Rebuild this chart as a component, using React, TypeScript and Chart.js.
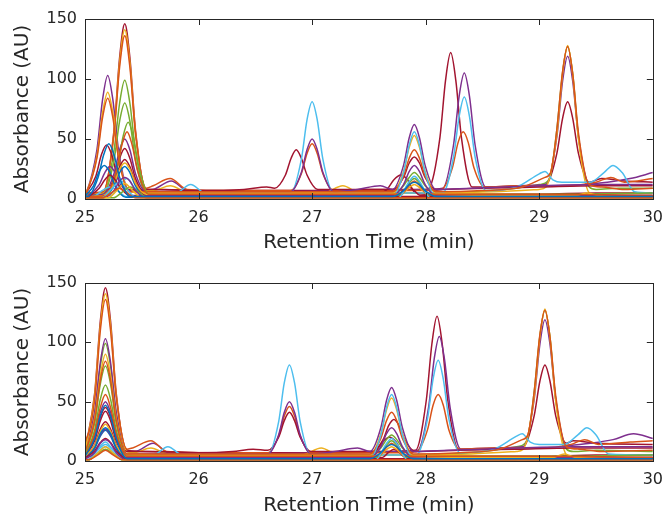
import React, { useEffect, useRef } from "react";
import { Chart, registerables } from "chart.js";
Chart.register(...registerables);

type P = [number, number][];

// ---------- colours (MATLAB default order) ----------
const BLUE = "#0072BD";
const ORANGE = "#D95319";
const YELLOW = "#EDB120";
const PURPLE = "#7E2F8E";
const GREEN = "#77AC30";
const CYAN = "#4DBEEE";
const DARKRED = "#A2142F";

// ---------- axes ----------
const X_TICKS = [25, 26, 27, 28, 29, 30];
const Y_TICKS = [0, 50, 100, 150];
const X_TITLE = "Retention Time (min)";
const Y_TITLE = "Absorbance (AU)";

// ---------- TOP panel (raw chromatograms) ----------
const B1_T: P = [[25,2],[25.02,2],[25.115,18],[25.165,37],[25.21,46],[25.255,37],[25.305,18],[25.4,2],[26,2],[27.71,2],[27.805,7],[27.855,12],[27.9,14],[27.945,12],[27.995,7],[28.09,2],[30,2]];
const B2_T: P = [[25,2.5],[25.075,11],[25.125,23],[25.17,28],[25.215,23],[25.265,11],[25.36,1.5],[30,1.5]];
const B3_T: P = [[25,1],[25.16,1],[25.255,11],[25.305,22],[25.35,27],[25.395,22],[25.445,11],[25.54,1],[29,1],[29.05,3],[29.1,1],[30,1]];

const O1_T: P = [[25,5],[25.16,6],[25.255,54],[25.305,110],[25.35,136],[25.395,110],[25.445,54],[25.54,9],[25.6,11],[25.75,17],[25.9,8],[26.3,7],[26.81,7],[26.905,21],[26.955,38],[27.0,46],[27.045,38],[27.095,21],[27.19,7],[27.6,7],[28.0,7],[28.14,8],[28.235,26],[28.285,47],[28.33,56],[28.375,47],[28.425,26],[28.52,10],[28.8,11],[29.2,11],[29.5,14],[29.63,18],[29.75,14],[30,17]];
const O2_T: P = [[25,4],[25.01,5],[25.105,34],[25.155,68],[25.2,84],[25.245,68],[25.295,34],[25.39,6],[25.6,6],[26,6],[27,6],[27.71,6],[27.805,19],[27.855,34],[27.9,41],[27.945,34],[27.995,19],[28.09,6],[28.5,7],[28.85,10],[29.05,18],[29.1,22],[29.155,58],[29.205,106],[29.25,127],[29.295,104],[29.345,55],[29.44,12],[29.55,10],[29.75,8],[30,9]];
const O3_T: P = [[25,2],[25.18,3],[25.275,23],[25.325,45],[25.37,56],[25.415,45],[25.465,23],[25.56,4],[26,4],[27,4],[27.78,4],[27.86,12],[27.9,15],[27.94,12],[28.02,4],[29,4],[30,3]];
const O4_T: P = [[25,1],[25.15,1],[25.23,5],[25.3,9],[25.37,5],[25.45,1],[30,1]];

const Y1_T: P = [[25,4],[25.16,5],[25.255,55],[25.305,114],[25.35,141],[25.395,114],[25.445,55],[25.54,7],[25.6,7],[25.75,11],[25.9,6],[26.5,5],[27.1,5],[27.27,11],[27.42,5],[28,5],[28.6,6],[29.0,8],[29.06,10],[29.155,54],[29.205,104],[29.25,128],[29.295,103],[29.345,50],[29.44,5],[29.5,3],[30,3]];
const Y2_T: P = [[25,4],[25.01,5],[25.105,36],[25.155,72],[25.2,89],[25.245,72],[25.295,36],[25.39,6],[26,5],[27,5],[27.71,5],[27.805,23],[27.855,43],[27.9,53],[27.945,43],[27.995,23],[28.09,5],[28.5,4],[29,3],[30,2]];
const Y3_T: P = [[25,2],[25.16,3],[25.255,13],[25.305,25],[25.35,30],[25.395,25],[25.445,13],[25.54,4],[26,4],[27,4],[27.78,4],[27.86,10],[27.9,12],[27.94,10],[28.02,4],[29,3],[29.32,3],[29.42,5],[29.52,3],[30,2]];
const Y4_T: P = [[25,1],[25.2,1],[25.28,7],[25.35,13],[25.42,7],[25.5,1],[30,1]];

const P1_T: P = [[25,4],[25.01,5],[25.105,41],[25.155,83],[25.2,103],[25.245,83],[25.295,41],[25.39,7],[25.6,8],[25.76,15],[25.9,7],[26.5,6],[27.5,7],[28.0,8],[28.15,9],[28.245,45],[28.295,86],[28.34,105],[28.385,86],[28.435,45],[28.53,10],[28.8,11],[29.06,12],[29.155,52],[29.205,98],[29.25,119],[29.295,98],[29.345,52],[29.44,13],[29.6,14],[29.8,17],[30,22]];
const P2_T: P = [[25,3],[25.16,4],[25.255,21],[25.305,41],[25.35,50],[25.395,41],[25.445,21],[25.54,6],[26,6],[26.81,6],[26.905,22],[26.955,41],[27.0,50],[27.045,41],[27.095,22],[27.19,6],[27.4,8],[27.6,11],[27.71,8],[27.805,28],[27.855,51],[27.9,62],[27.945,51],[27.995,28],[28.09,8],[28.4,9],[29,11],[29.5,12],[30,12]];
const P3_T: P = [[25,2],[25.03,3],[25.125,12],[25.175,22],[25.22,27],[25.265,22],[25.315,12],[25.41,3],[26,3],[27,3],[27.71,3],[27.805,12],[27.855,23],[27.9,28],[27.945,23],[27.995,12],[28.09,3],[29,3],[30,3]];
const P4_T: P = [[25,1],[25.16,1],[25.255,7],[25.305,15],[25.35,18],[25.395,15],[25.445,7],[25.54,1],[30,1]];

const G1_T: P = [[25,4],[25.16,5],[25.255,40],[25.305,80],[25.35,99],[25.395,80],[25.445,40],[25.54,6],[26,5],[27,5],[28,5],[28.6,7],[29.0,12],[29.09,17],[29.155,58],[29.205,105],[29.25,127],[29.295,104],[29.345,52],[29.44,10],[29.5,8],[29.7,9],[30,9]];
const G2_T: P = [[25,3],[25.16,4],[25.255,32],[25.305,65],[25.35,80],[25.395,65],[25.445,32],[25.54,5],[26,4],[27,4],[27.71,4],[27.805,11],[27.855,18],[27.9,22],[27.945,18],[27.995,11],[28.09,4],[29,4],[30,5]];
const G3_T: P = [[25,2],[25.19,3],[25.285,26],[25.335,52],[25.38,64],[25.425,52],[25.475,26],[25.57,3],[26,3],[27,3],[27.78,3],[27.86,14],[27.9,17],[27.94,14],[28.02,3],[30,2]];
const G4_T: P = [[25,1],[25.25,1],[25.33,6],[25.4,10],[25.47,6],[25.55,1],[30,1]];

const C1_T: P = [[25,3],[25.23,3],[25.3,11],[25.37,17],[25.44,9],[25.55,5],[25.8,5],[25.93,12],[26.06,5],[26.5,5],[26.81,5],[26.905,33],[26.955,66],[27.0,81],[27.045,66],[27.095,33],[27.19,5],[27.6,5],[28.15,5],[28.245,35],[28.295,69],[28.34,85],[28.385,69],[28.435,35],[28.53,7],[28.8,10],[29.0,21],[29.05,23],[29.12,16],[29.2,14],[29.45,14],[29.57,22],[29.65,28],[29.73,22],[29.84,6],[30,5]];
const C2_T: P = [[25,1],[25.08,2],[25.15,7],[25.22,10],[25.29,7],[25.36,2],[26,2],[27.71,2],[27.805,22],[27.855,45],[27.9,56],[27.945,45],[27.995,22],[28.09,2],[30,2]];
const C3_T: P = [[25,1],[25.15,1],[25.23,8],[25.3,14],[25.37,8],[25.45,1],[26,1],[27.76,1],[27.85,14],[27.9,19],[27.95,14],[28.04,1],[30,1]];

const DR1_T: P = [[25,4],[25.16,5],[25.255,57],[25.305,118],[25.35,146],[25.395,118],[25.445,57],[25.54,8],[25.7,8],[26,7],[26.5,7],[27,7],[27.5,8],[28.0,8],[28.03,9],[28.125,51],[28.175,99],[28.22,122],[28.265,99],[28.315,51],[28.41,10],[28.6,10],[29.0,11],[29.06,12],[29.155,38],[29.205,67],[29.25,81],[29.295,67],[29.345,38],[29.44,14],[29.55,17],[29.75,15],[30,14]];
const DR2_T: P = [[25,3.5],[25.095,19],[25.145,37],[25.19,45],[25.235,37],[25.285,19],[25.38,8],[25.6,8],[26,7],[26.4,8],[26.6,10],[26.67,9],[26.765,20],[26.815,34],[26.86,41],[26.905,34],[26.955,20],[27.05,8],[27.3,8],[27.71,8],[27.805,18],[27.855,30],[27.9,35],[27.945,30],[27.995,18],[28.09,8],[28.5,9],[29,10],[29.5,11],[30,11]];
const DR3_T: P = [[25,2],[25.16,3],[25.255,17],[25.305,34],[25.35,42],[25.395,34],[25.445,17],[25.54,4],[26,4],[27,4],[27.6,5],[27.66,8],[27.72,16],[27.78,20],[27.84,16],[27.9,6],[28.0,4],[28.5,4],[29,4],[29.5,5],[30,5]];
const DR4_T: P = [[25,1],[25.16,2],[25.255,13.5],[25.305,27],[25.35,33],[25.395,27],[25.445,13.5],[25.54,3],[26,3],[27,3],[27.75,3],[27.8,7],[27.85,10],[27.9,7],[27.95,3],[28.5,3],[29,3],[29.4,4],[29.7,3],[30,3]];
const DR5_T: P = [[25,1],[25.03,2],[25.125,9],[25.175,16],[25.22,20],[25.265,16],[25.315,9],[25.41,2],[26,2],[27,2],[28,2],[29,2],[30,2]];

// ---------- BOTTOM panel (aligned chromatograms) ----------
const B1_B: P = [[25,4],[25.085,19],[25.135,38],[25.18,47],[25.225,38],[25.275,19],[25.37,2],[26,2],[27.51,2],[27.605,7],[27.655,12],[27.7,14],[27.745,12],[27.795,7],[27.89,2],[30,2]];
const B2_B: P = [[25,2],[25.085,11],[25.135,23],[25.18,28],[25.225,23],[25.275,11],[25.37,1.5],[30,1.5]];
const B3_B: P = [[25,1.5],[25.085,10.5],[25.135,21],[25.18,26],[25.225,21],[25.275,10.5],[25.37,1],[28.8,1],[28.85,3],[28.9,1],[30,1]];

const O1_B: P = [[25,16],[25.05,30],[25.09,56],[25.135,110],[25.18,136],[25.225,110],[25.275,54],[25.37,10],[25.42,11],[25.58,17],[25.72,8],[26.1,7],[26.61,7],[26.705,21],[26.755,38],[26.8,46],[26.845,38],[26.895,21],[26.99,7],[27.4,7],[27.8,7],[27.92,8],[28.015,26],[28.065,47],[28.11,56],[28.155,47],[28.205,26],[28.3,10],[28.6,11],[29.0,11],[29.28,14],[29.4,18],[29.52,14],[29.8,16],[30,17]];
const O2_B: P = [[25,7],[25.085,34],[25.135,68],[25.18,84],[25.225,68],[25.275,34],[25.37,6],[25.6,6],[26,6],[27,6],[27.51,6],[27.605,19],[27.655,34],[27.7,41],[27.745,34],[27.795,19],[27.89,6],[28.3,7],[28.65,10],[28.85,18],[28.9,22],[28.955,58],[29.005,106],[29.05,127],[29.095,104],[29.145,55],[29.24,12],[29.35,10],[29.55,8],[30,9]];
const O3_B: P = [[25,4],[25.085,23],[25.135,45],[25.18,56],[25.225,45],[25.275,23],[25.37,4],[26,4],[27,4],[27.58,4],[27.66,12],[27.7,15],[27.74,12],[27.82,4],[29,4],[30,3]];
const O4_B: P = [[25,1],[25.03,1],[25.11,5],[25.18,9],[25.25,5],[25.33,1],[30,1]];

const Y1_B: P = [[25,8],[25.085,55],[25.135,114],[25.18,141],[25.225,114],[25.275,55],[25.37,8],[25.43,7],[25.58,11],[25.73,6],[26.3,5],[26.91,5],[27.08,11],[27.23,5],[27.8,5],[28.4,6],[28.8,8],[28.86,10],[28.955,54],[29.005,104],[29.05,128],[29.095,103],[29.145,50],[29.24,5],[29.3,3],[30,3]];
const Y2_B: P = [[25,7],[25.085,36],[25.135,72],[25.18,90],[25.225,72],[25.275,36],[25.37,6],[26,5],[27,5],[27.51,5],[27.605,23],[27.655,43],[27.7,53],[27.745,43],[27.795,23],[27.89,5],[28.3,4],[28.8,3],[30,2]];
const Y3_B: P = [[25,4],[25.085,13],[25.135,25],[25.18,31],[25.225,25],[25.275,13],[25.37,4],[26,4],[27,4],[27.58,4],[27.66,10],[27.7,12],[27.74,10],[27.82,4],[28.8,3],[29.12,3],[29.22,6],[29.32,3],[30,2]];
const Y4_B: P = [[25,1],[25.03,1],[25.11,6.5],[25.18,12],[25.25,6.5],[25.33,1],[30,1]];

const P1_B: P = [[25,7],[25.085,41],[25.135,83],[25.18,103],[25.225,83],[25.275,41],[25.37,8],[25.44,8],[25.6,15],[25.74,7],[26.3,6],[27.3,7],[27.8,8],[27.93,9],[28.025,45],[28.075,86],[28.12,105],[28.165,86],[28.215,45],[28.31,10],[28.6,11],[28.86,12],[28.955,52],[29.005,98],[29.05,119],[29.095,98],[29.145,52],[29.24,13],[29.45,15],[29.65,18],[29.83,23],[30,19]];
const P2_B: P = [[25,5],[25.085,21],[25.135,41],[25.18,50],[25.225,41],[25.275,21],[25.37,6],[26,6],[26.61,6],[26.705,22],[26.755,41],[26.8,50],[26.845,41],[26.895,22],[26.99,6],[27.2,8],[27.4,11],[27.51,8],[27.605,28],[27.655,51],[27.7,62],[27.745,51],[27.795,28],[27.89,8],[28.2,9],[28.8,11],[29.3,12],[30,12]];
const P3_B: P = [[25,3],[25.085,12],[25.135,22],[25.18,27],[25.225,22],[25.275,12],[25.37,3],[26,3],[27.51,3],[27.605,12],[27.655,23],[27.7,28],[27.745,23],[27.795,12],[27.89,3],[30,3]];
const P4_B: P = [[25,1.5],[25.085,7],[25.135,15],[25.18,18],[25.225,15],[25.275,7],[25.37,1],[30,1]];

const G1_B: P = [[25,7],[25.085,40],[25.135,80],[25.18,99],[25.225,80],[25.275,40],[25.37,6],[26,5],[27,5],[27.8,5],[28.4,7],[28.8,12],[28.89,17],[28.955,58],[29.005,105],[29.05,127],[29.095,104],[29.145,52],[29.24,10],[29.3,8],[29.5,9],[30,8]];
const G2_B: P = [[25,6],[25.085,32],[25.135,65],[25.18,80],[25.225,65],[25.275,32],[25.37,5],[26,4],[27,4],[27.51,4],[27.605,11],[27.655,18],[27.7,22],[27.745,18],[27.795,11],[27.89,4],[29,4],[30,5]];
const G3_B: P = [[25,5],[25.085,26],[25.135,52],[25.18,64],[25.225,52],[25.275,26],[25.37,3],[26,3],[27,3],[27.58,3],[27.66,14],[27.7,17],[27.74,14],[27.82,3],[30,2]];
const G4_B: P = [[25,1],[25.03,1],[25.11,6],[25.18,10],[25.25,6],[25.33,1],[30,1]];

const C1_B: P = [[25,3],[25.06,5],[25.12,11],[25.18,16],[25.25,9],[25.36,5],[25.6,5],[25.73,12],[25.86,5],[26.3,5],[26.61,5],[26.705,33],[26.755,66],[26.8,81],[26.845,66],[26.895,33],[26.99,5],[27.4,5],[27.92,5],[28.015,35],[28.065,69],[28.11,85],[28.155,69],[28.205,35],[28.3,7],[28.6,10],[28.8,21],[28.85,23],[28.92,16],[29.0,14],[29.22,14],[29.34,22],[29.42,28],[29.5,22],[29.61,6],[30,5]];
const C2_B: P = [[25,1],[25.04,2],[25.11,9],[25.18,14],[25.25,9],[25.32,2],[26,2],[27.51,2],[27.605,22],[27.655,45],[27.7,56],[27.745,45],[27.795,22],[27.89,2],[30,2]];
const C3_B: P = [[25,1],[25.03,1],[25.11,7],[25.18,12],[25.25,7],[25.33,1],[26,1],[27.56,1],[27.65,14],[27.7,19],[27.75,14],[27.84,1],[30,1]];

const DR1_B: P = [[25,9],[25.085,57],[25.135,118],[25.18,146],[25.225,118],[25.275,57],[25.37,9],[25.5,8],[26,7],[26.5,7],[27,7],[27.5,8],[27.91,9],[28.005,51],[28.055,99],[28.1,122],[28.145,99],[28.195,51],[28.29,10],[28.5,10],[28.86,12],[28.955,38],[29.005,67],[29.05,81],[29.095,67],[29.145,38],[29.24,15],[29.3,17],[29.5,15],[30,14]];
const DR2_B: P = [[25,5],[25.085,19],[25.135,37],[25.18,45],[25.225,37],[25.275,19],[25.37,8],[25.6,8],[26,7],[26.3,8],[26.48,10],[26.61,9],[26.705,20],[26.755,34],[26.8,41],[26.845,34],[26.895,20],[26.99,8],[27.3,8],[27.53,8],[27.625,18],[27.675,30],[27.72,35],[27.765,30],[27.815,18],[27.91,8],[28.3,9],[28.8,10],[29.3,11],[30,11]];
const DR3_B: P = [[25,4],[25.085,17],[25.135,34],[25.18,42],[25.225,34],[25.275,17],[25.37,4],[26,4],[27,4],[27.5,5],[27.56,8],[27.62,16],[27.68,20],[27.74,16],[27.8,6],[27.9,4],[28.5,4],[29,4],[29.5,5],[30,5]];
const DR4_B: P = [[25,3],[25.085,13.5],[25.135,27],[25.18,33],[25.225,27],[25.275,13.5],[25.37,3],[26,3],[27,3],[27.62,3],[27.67,7],[27.72,10],[27.77,7],[27.82,3],[28.5,3],[29,3],[29.4,4],[29.7,3],[30,3]];
const DR5_B: P = [[25,2.5],[25.085,8.5],[25.135,15.5],[25.18,19],[25.225,15.5],[25.275,8.5],[25.37,2],[30,2]];

const TOP_SERIES: [string, P][] = [
  [BLUE, B1_T], [ORANGE, O4_T], [YELLOW, Y4_T], [PURPLE, P4_T], [GREEN, G4_T], [CYAN, C3_T], [DARKRED, DR5_T],
  [BLUE, B2_T], [ORANGE, O3_T], [YELLOW, Y3_T], [PURPLE, P3_T], [GREEN, G3_T], [CYAN, C2_T], [DARKRED, DR4_T],
  [BLUE, B3_T], [ORANGE, O2_T], [YELLOW, Y2_T], [PURPLE, P2_T], [GREEN, G2_T], [CYAN, C1_T], [DARKRED, DR3_T],
  [DARKRED, DR2_T], [ORANGE, O1_T], [YELLOW, Y1_T], [PURPLE, P1_T], [GREEN, G1_T], [DARKRED, DR1_T],
];
const BOTTOM_SERIES: [string, P][] = [
  [BLUE, B1_B], [ORANGE, O4_B], [YELLOW, Y4_B], [PURPLE, P4_B], [GREEN, G4_B], [CYAN, C3_B], [DARKRED, DR5_B],
  [BLUE, B2_B], [ORANGE, O3_B], [YELLOW, Y3_B], [PURPLE, P3_B], [GREEN, G3_B], [CYAN, C2_B], [DARKRED, DR4_B],
  [BLUE, B3_B], [ORANGE, O2_B], [YELLOW, Y2_B], [PURPLE, P2_B], [GREEN, G2_B], [CYAN, C1_B], [DARKRED, DR3_B],
  [DARKRED, DR2_B], [ORANGE, O1_B], [YELLOW, Y1_B], [PURPLE, P1_B], [GREEN, G1_B], [DARKRED, DR1_B],
];

const FONT = "'DejaVu Sans', sans-serif";
const INK = "#262626";

const boxPlugin = {
  id: "matlabBox",
  afterDatasetsDraw(chart: any) {
    const { ctx, chartArea, scales } = chart;
    const { left, right, top, bottom } = chartArea;
    ctx.save();
    ctx.strokeStyle = INK;
    ctx.lineWidth = 1;
    ctx.strokeRect(Math.round(left) + 0.5, Math.round(top) + 0.5, Math.round(right - left), Math.round(bottom - top));
    const tl = 6;
    ctx.beginPath();
    for (const v of X_TICKS) {
      const px = Math.round(scales.x.getPixelForValue(v)) + 0.5;
      ctx.moveTo(px, bottom); ctx.lineTo(px, bottom - tl);
      ctx.moveTo(px, top); ctx.lineTo(px, top + tl);
    }
    for (const v of Y_TICKS) {
      const py = Math.round(scales.y.getPixelForValue(v)) + 0.5;
      ctx.moveTo(left, py); ctx.lineTo(left + tl, py);
      ctx.moveTo(right, py); ctx.lineTo(right - tl, py);
    }
    ctx.stroke();
    ctx.restore();
  },
};

function makeConfig(series: [string, P][], padTop: number, xHeight: number, titlePadBottom: number): any {
  return {
    type: "line",
    data: {
      datasets: series.map(([color, pts]) => ({
        data: pts.map(([x, y]) => ({ x, y })),
        borderColor: color,
        borderWidth: 1.5,
        pointRadius: 0,
        fill: false,
        cubicInterpolationMode: "monotone",
      })),
    },
    options: {
      responsive: false,
      animation: false,
      devicePixelRatio: 1,
      layout: { padding: { top: padTop, right: 13, left: 0, bottom: 0 } },
      plugins: { legend: { display: false }, tooltip: { enabled: false } },
      events: [],
      scales: {
        x: {
          type: "linear",
          min: 25,
          max: 30,
          afterBuildTicks: (s: any) => { s.ticks = X_TICKS.map((v) => ({ value: v })); },
          afterFit: (s: any) => { s.height = xHeight; },
          grid: { display: false, drawTicks: false },
          border: { display: false },
          ticks: { color: INK, font: { family: FONT, size: 16 }, padding: 9, maxRotation: 0, autoSkip: false },
          title: { display: true, text: X_TITLE, color: INK, font: { family: FONT, size: 20 }, padding: { top: 0, bottom: titlePadBottom } },
        },
        y: {
          min: 0,
          max: 150,
          afterBuildTicks: (s: any) => { s.ticks = Y_TICKS.map((v) => ({ value: v })); },
          afterFit: (s: any) => { s.width = 85; },
          grid: { display: false, drawTicks: false },
          border: { display: false },
          ticks: { color: INK, font: { family: FONT, size: 16 }, padding: 8 },
          title: { display: true, text: Y_TITLE, color: INK, font: { family: FONT, size: 20 }, padding: { top: 11, bottom: 0 } },
        },
      },
    },
    plugins: [boxPlugin],
  };
}

function Panel({ series, top, padTop, xHeight, titlePadBottom }: { series: [string, P][]; top: number; padTop: number; xHeight: number; titlePadBottom: number }) {
  const ref = useRef<HTMLCanvasElement | null>(null);
  useEffect(() => {
    if (!ref.current) return;
    const chart = new Chart(ref.current, makeConfig(series, padTop, xHeight, titlePadBottom));
    return () => chart.destroy();
  }, []);
  return (
    <canvas
      ref={ref}
      width={672}
      height={259}
      style={{ position: "absolute", left: 0, top, width: 672, height: 259 }}
    />
  );
}

export default function App() {
  return (
    <div style={{ position: "absolute", left: 0, top: 0, width: 672, height: 518, background: "#fff" }}>
      <Panel series={TOP_SERIES} top={0} padTop={19} xHeight={60} titlePadBottom={4} />
      <Panel series={BOTTOM_SERIES} top={259} padTop={24} xHeight={57} titlePadBottom={0} />
    </div>
  );
}
